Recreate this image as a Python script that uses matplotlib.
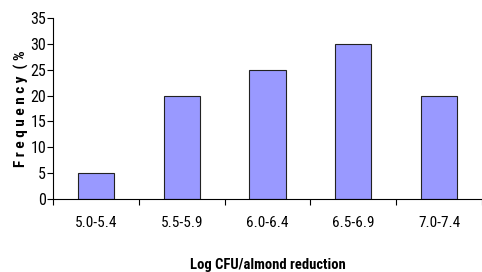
import numpy as np
import matplotlib.pyplot as plt

# data
categories = ["5.0-5.4", "5.5-5.9", "6.0-6.4", "6.5-6.9", "7.0-7.4"]
frequency = [5, 20, 25, 30, 20]
y_ticks = [0, 5, 10, 15, 20, 25, 30, 35]

# condensed font, close to the Arial Narrow look of the original
plt.rcParams['font.family'] = ['Roboto Condensed', 'Liberation Sans', 'DejaVu Sans']

fig = plt.figure(figsize=(4.82, 2.72), dpi=100)
ax = fig.add_axes([0.110, 0.268, 0.890, 0.666])

x = np.arange(len(categories))
ax.bar(x, frequency, width=0.42, color='#9999ff', edgecolor='#222222', linewidth=0.8)

ax.set_xlim(-0.5, len(categories) - 0.5)
ax.set_ylim(0, 35)
ax.set_yticks(y_ticks)
ax.set_yticklabels([str(t) for t in y_ticks], fontsize=11.5)

# ticks sit between the categories, labels in the middle
ax.set_xticks(np.arange(len(categories) + 1) - 0.5)
ax.set_xticklabels([])
ax.set_xticks(x, minor=True)
ax.set_xticklabels(categories, minor=True, fontsize=11)
ax.tick_params(axis='x', which='minor', length=0, pad=12)
ax.tick_params(axis='x', which='major', length=4, width=0.8, direction='out')
ax.tick_params(axis='y', length=4, width=0.8, direction='out', pad=1)

for side in ['top', 'right']:
    ax.spines[side].set_visible(False)
for side in ['left', 'bottom']:
    ax.spines[side].set_linewidth(0.8)

ax.set_ylabel("F r e q u e n c y  ( %", fontsize=11, fontweight='bold', labelpad=1)
ax.set_xlabel("Log CFU/almond reduction", fontsize=10.5, fontweight='bold', labelpad=20)

fig.savefig("out.png", dpi=100)
